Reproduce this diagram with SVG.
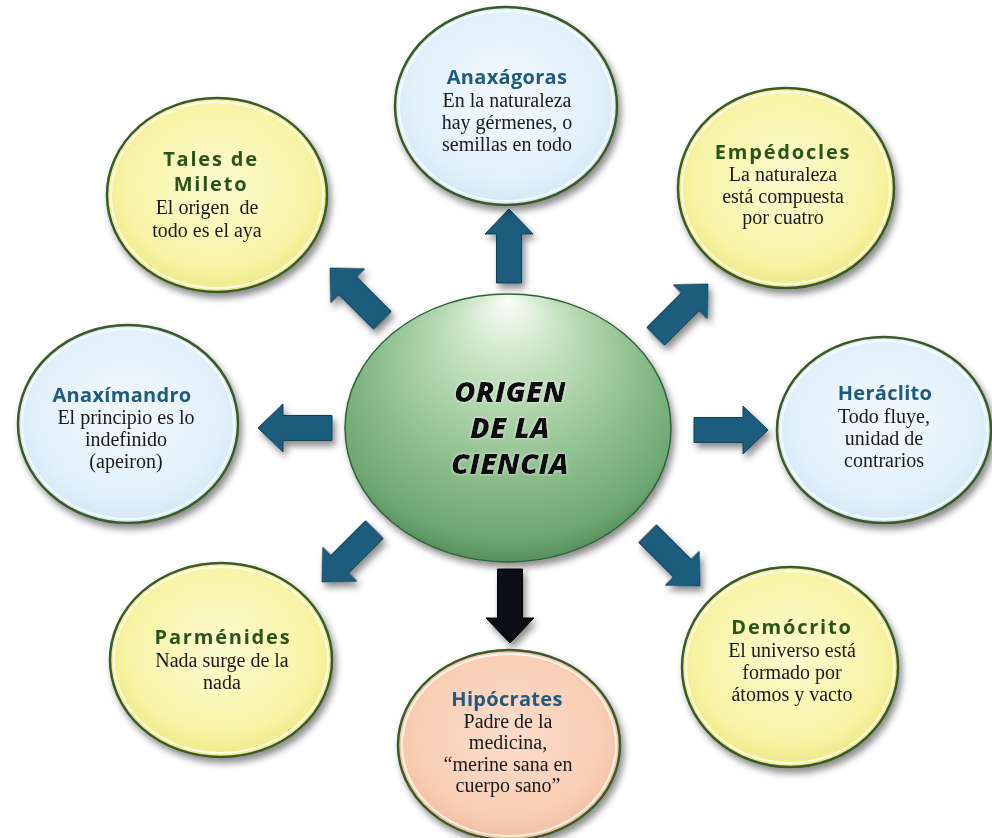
<svg xmlns="http://www.w3.org/2000/svg" width="992" height="838" viewBox="0 0 992 838">
<style>
.node{stroke:#3a5a28;stroke-width:2.5}
.ring{fill:none;stroke:#ffffff;stroke-opacity:0.75;stroke-width:2}
.tb{font-family:"Open Sans","Liberation Sans",sans-serif;font-weight:700;font-size:20px;fill:#1f5b7e;text-anchor:middle;letter-spacing:0.3px}
.tg{font-family:"Open Sans","Liberation Sans",sans-serif;font-weight:700;font-size:20px;fill:#2b5518;text-anchor:middle;letter-spacing:1.8px}
.bd{font-family:"Liberation Serif","Times New Roman",serif;font-size:20px;fill:#1a1a1a;text-anchor:middle;white-space:pre}
.ct{font-family:"Open Sans","Liberation Sans",sans-serif;font-weight:800;font-style:italic;font-size:29px;fill:#111111;text-anchor:middle;letter-spacing:0.3px}
.arr{fill:#1d5b7d;stroke:#123f57;stroke-width:1}
.arrk{fill:#070b14;stroke:#000000;stroke-width:1}
</style>
<defs>
<radialGradient id="gY" cx="0.5" cy="0.45" r="0.6">
<stop offset="0" stop-color="#fcfbd0"/>
<stop offset="0.7" stop-color="#f7f4a6"/>
<stop offset="1" stop-color="#ebe57c"/>
</radialGradient>
<radialGradient id="gB" cx="0.5" cy="0.45" r="0.6">
<stop offset="0" stop-color="#f2f9fe"/>
<stop offset="0.7" stop-color="#e2f0fa"/>
<stop offset="1" stop-color="#cfe4f2"/>
</radialGradient>
<radialGradient id="gP" cx="0.5" cy="0.45" r="0.6">
<stop offset="0" stop-color="#fcdccb"/>
<stop offset="0.7" stop-color="#f9ceb6"/>
<stop offset="1" stop-color="#f0b999"/>
</radialGradient>
<radialGradient id="gC" cx="0.5" cy="0.42" r="0.62" fx="0.5" fy="0.02">
<stop offset="0" stop-color="#fafdf8"/>
<stop offset="0.25" stop-color="#c8e3c3"/>
<stop offset="0.6" stop-color="#93c293"/>
<stop offset="0.88" stop-color="#6da673"/>
<stop offset="1" stop-color="#4a8452"/>
</radialGradient>
<filter id="sh" x="-20%" y="-20%" width="140%" height="145%">
<feDropShadow dx="3" dy="5" stdDeviation="3.5" flood-color="#000" flood-opacity="0.45"/>
</filter>
<filter id="tsh" x="-10%" y="-20%" width="120%" height="150%">
<feDropShadow dx="0" dy="0" stdDeviation="1.5" flood-color="#ffffff" flood-opacity="0.9"/>
</filter>
<path id="arrow" d="M0,0 L-25,-24 L-25,-12.5 L-74,-12.5 L-74,12.5 L-25,12.5 L-25,24 Z"/>
</defs>
<rect width="992" height="838" fill="#ffffff"/>

<g id="connectors" filter="url(#sh)">
<use href="#arrow" class="arr" transform="translate(509,209) rotate(-90)"/>
<use href="#arrow" class="arr" transform="translate(708,284) rotate(-45)"/>
<use href="#arrow" class="arr" transform="translate(768,430)"/>
<use href="#arrow" class="arr" transform="translate(700,586) rotate(45)"/>
<use href="#arrow" class="arrk" transform="translate(510,643) rotate(90)"/>
<use href="#arrow" class="arr" transform="translate(322,582) rotate(135)"/>
<use href="#arrow" class="arr" transform="translate(258,428) rotate(180)"/>
<use href="#arrow" class="arr" transform="translate(330,268) rotate(-135)"/>
</g>

<g id="center">
<ellipse cx="508" cy="428" rx="163" ry="134" fill="url(#gC)" stroke="#2f6238" stroke-width="1.5" filter="url(#sh)"/>
<g filter="url(#tsh)">
<text class="ct" x="510" y="402">ORIGEN</text>
<text class="ct" x="510" y="438">DE LA</text>
<text class="ct" x="510" y="474">CIENCIA</text>
</g>
</g>

<g id="tales">
<ellipse class="node" cx="217" cy="195" rx="110" ry="97" fill="url(#gY)" filter="url(#sh)"/>
<ellipse class="ring" cx="217" cy="195" rx="106" ry="93"/>
<text class="tg" x="211" y="166">Tales de</text>
<text class="tg" x="211" y="191">Mileto</text>
<text class="bd" x="207" y="214">El origen  de</text>
<text class="bd" x="207" y="237">todo es el aya</text>
</g>

<g id="anaxagoras">
<ellipse class="node" cx="506" cy="106" rx="111" ry="99" fill="url(#gB)" filter="url(#sh)"/>
<ellipse class="ring" cx="506" cy="106" rx="107" ry="95"/>
<text class="tb" x="507" y="84">Anaxágoras</text>
<text class="bd" x="507" y="107">En la naturaleza</text>
<text class="bd" x="507" y="129">hay gérmenes, o</text>
<text class="bd" x="507" y="151">semillas en todo</text>
</g>

<g id="empedocles">
<ellipse class="node" cx="786" cy="188" rx="108" ry="100" fill="url(#gY)" filter="url(#sh)"/>
<ellipse class="ring" cx="786" cy="188" rx="104" ry="96"/>
<text class="tg" x="783" y="159">Empédocles</text>
<text class="bd" x="783" y="181">La naturaleza</text>
<text class="bd" x="783" y="203">está compuesta</text>
<text class="bd" x="783" y="224">por cuatro</text>
</g>

<g id="heraclito">
<ellipse class="node" cx="884" cy="430" rx="107" ry="93" fill="url(#gB)" filter="url(#sh)"/>
<ellipse class="ring" cx="884" cy="430" rx="103" ry="89"/>
<text class="tb" x="885" y="400">Heráclito</text>
<text class="bd" x="884" y="423">Todo fluye,</text>
<text class="bd" x="884" y="445">unidad de</text>
<text class="bd" x="884" y="467">contrarios</text>
</g>

<g id="democrito">
<ellipse class="node" cx="790" cy="667" rx="108" ry="100" fill="url(#gY)" filter="url(#sh)"/>
<ellipse class="ring" cx="790" cy="667" rx="104" ry="96"/>
<text class="tg" x="792" y="634">Demócrito</text>
<text class="bd" x="792" y="657">El universo está</text>
<text class="bd" x="792" y="679">formado por</text>
<text class="bd" x="792" y="701">átomos y vacto</text>
</g>

<g id="hipocrates">
<ellipse class="node" cx="509" cy="745" rx="111" ry="95" fill="url(#gP)" filter="url(#sh)"/>
<ellipse class="ring" cx="509" cy="745" rx="107" ry="91"/>
<text class="tb" x="507" y="706">Hipócrates</text>
<text class="bd" x="508" y="728">Padre de la</text>
<text class="bd" x="508" y="749">medicina,</text>
<text class="bd" x="508" y="771">“merine sana en</text>
<text class="bd" x="508" y="792">cuerpo sano”</text>
</g>

<g id="parmenides">
<ellipse class="node" cx="221" cy="660" rx="111" ry="97" fill="url(#gY)" filter="url(#sh)"/>
<ellipse class="ring" cx="221" cy="660" rx="107" ry="93"/>
<text class="tg" x="223" y="644">Parménides</text>
<text class="bd" x="222" y="667">Nada surge de la</text>
<text class="bd" x="222" y="689">nada</text>
</g>

<g id="anaximandro">
<ellipse class="node" cx="128" cy="424" rx="110" ry="99" fill="url(#gB)" filter="url(#sh)"/>
<ellipse class="ring" cx="128" cy="424" rx="106" ry="95"/>
<text class="tb" x="122" y="402">Anaxímandro</text>
<text class="bd" x="126" y="424">El principio es lo</text>
<text class="bd" x="126" y="446">indefinido</text>
<text class="bd" x="126" y="468">(apeiron)</text>
</g>
</svg>
